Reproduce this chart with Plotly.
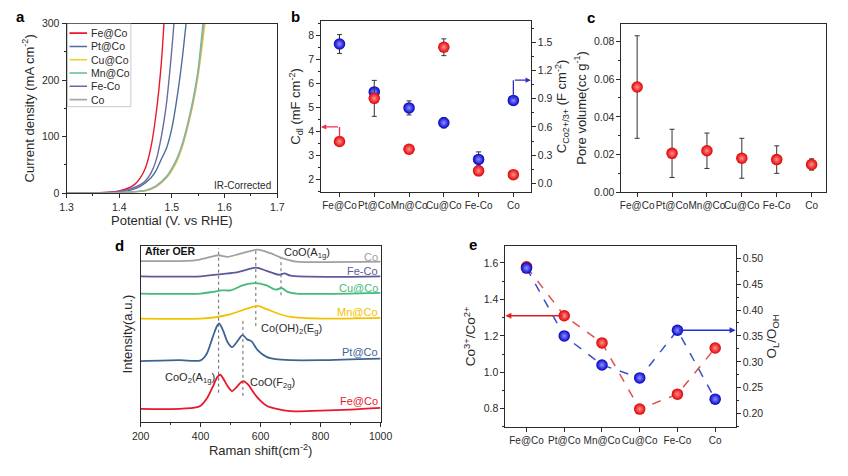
import plotly.graph_objects as go

FONT = "Arial, Liberation Sans, sans-serif"
INK = "#2a2a2a"

# ---------------- panel a : LSV curves ----------------
lsv_names = ["Fe@Co", "Pt@Co", "Cu@Co", "Mn@Co", "Fe-Co", "Co"]
lsv_colors = ["#e8192c", "#4a6d99", "#f0d030", "#5cc08a", "#6a6aa2", "#a8a8a8"]

fe_at_co_V = [1.30, 1.35, 1.38, 1.40, 1.42, 1.43, 1.44, 1.45, 1.46, 1.47, 1.48, 1.485]
fe_at_co_J = [0, 0.5, 1.5, 4, 10, 16, 27, 45, 80, 140, 230, 300]
pt_at_co_V = [1.30, 1.37, 1.40, 1.42, 1.44, 1.46, 1.47, 1.48, 1.49, 1.50, 1.51, 1.52, 1.527]
pt_at_co_J = [0, 0.5, 2, 5, 12, 27, 40, 60, 80, 115, 170, 240, 300]
cu_at_co_V = [1.30, 1.38, 1.42, 1.45, 1.47, 1.49, 1.50, 1.51, 1.52, 1.53, 1.54, 1.55, 1.563]
cu_at_co_J = [0, 0.4, 1.8, 4, 11, 27, 40, 57, 82, 116, 156, 208, 300]
mn_at_co_V = [1.30, 1.38, 1.42, 1.45, 1.47, 1.49, 1.50, 1.51, 1.52, 1.53, 1.54, 1.55, 1.559]
mn_at_co_J = [0, 0.5, 2, 5, 13, 30, 44, 62, 88, 123, 165, 220, 300]
fe_co_V = [1.30, 1.36, 1.40, 1.42, 1.44, 1.45, 1.46, 1.47, 1.48, 1.49, 1.495, 1.50, 1.504]
fe_co_J = [0, 0.5, 3, 7, 15, 22, 35, 58, 100, 160, 205, 255, 300]
co_V = [1.30, 1.38, 1.42, 1.45, 1.47, 1.49, 1.50, 1.51, 1.52, 1.53, 1.54, 1.55, 1.561]
co_J = [0, 0.5, 2, 4.5, 12, 28, 42, 60, 85, 119, 160, 213, 300]

lsv_V = [fe_at_co_V, pt_at_co_V, cu_at_co_V, mn_at_co_V, fe_co_V, co_V]
lsv_J = [fe_at_co_J, pt_at_co_J, cu_at_co_J, mn_at_co_J, fe_co_J, co_J]

# ---------------- panels b, c, e : categories ----------------
cats = ["Fe@Co", "Pt@Co", "Mn@Co", "Cu@Co", "Fe-Co", "Co"]
cat_idx = list(range(len(cats)))

cdl = [3.58, 5.38, 3.26, 7.51, 2.36, 2.20]
cdl_err = [0.10, 0.75, 0.08, 0.35, 0.20, 0.08]
c_co = [1.483, 0.973, 0.803, 0.645, 0.255, 0.883]
c_co_err = [0.10, 0.04, 0.075, 0.055, 0.08, 0.03]

pore = [0.0558, 0.0206, 0.0220, 0.0180, 0.0173, 0.0147]
pore_err = [0.0272, 0.0128, 0.0094, 0.0106, 0.0073, 0.0030]

co_ratio = [1.579, 1.31, 1.161, 0.798, 0.88, 1.133]
ol_ooh = [0.481, 0.35, 0.294, 0.269, 0.361, 0.228]

# ---------------- panel d : Raman spectra ----------------
raman_names = ["Fe@Co", "Pt@Co", "Mn@Co", "Cu@Co", "Fe-Co", "Co"]
raman_colors = ["#e8192c", "#3d6591", "#f2c200", "#45b87a", "#5b5b9e", "#a0a0a0"]

fe_at_co_x = [200, 300, 380, 400, 420, 440, 455, 465, 475, 490, 505, 520, 535, 545, 560, 580, 600, 620, 650, 700, 800, 900, 1000]
fe_at_co_y = [13.7, 13.5, 15, 17, 24, 36, 46, 48.7, 45, 37, 32, 36, 41, 42, 38, 29, 22, 17, 14, 11.3, 12, 13, 14.7]
pt_at_co_x = [200, 330, 400, 420, 440, 455, 462, 475, 490, 505, 520, 540, 555, 570, 590, 620, 650, 700, 800, 1000]
pt_at_co_y = [62.7, 63.7, 63.5, 70, 87, 99, 101.3, 94, 82, 77, 82, 89.3, 85, 83, 74, 67, 64.7, 63.7, 63.7, 65.3]
mn_at_co_x = [200, 400, 450, 500, 550, 590, 620, 660, 700, 800, 1000]
mn_at_co_y = [106.3, 106.3, 107.7, 111, 116, 119.3, 116, 111.3, 108, 106.3, 107]
cu_at_co_x = [200, 400, 440, 470, 500, 540, 580, 620, 650, 670, 690, 720, 1000]
cu_at_co_y = [132, 132, 133.7, 135.3, 135.3, 140.3, 142.7, 140.3, 136, 137.7, 133.7, 132, 132.7]
fe_co_x = [200, 400, 470, 520, 560, 585, 620, 660, 680, 700, 1000]
fe_co_y = [149.7, 149.7, 152, 153.7, 157, 158.7, 155.3, 151.3, 152.7, 150.3, 149.7]
co_x = [200, 380, 430, 460, 490, 530, 590, 630, 670, 720, 800, 1000]
co_y = [165.3, 166, 169.3, 171.3, 169.7, 172.7, 177, 173.7, 168.7, 164.7, 164.3, 164.7]

raman_x = [fe_at_co_x, pt_at_co_x, mn_at_co_x, cu_at_co_x, fe_co_x, co_x]
raman_y = [fe_at_co_y, pt_at_co_y, mn_at_co_y, cu_at_co_y, fe_co_y, co_y]
raman_label_y = [22, 72, 113, 138, 155, 170]

peak_x = [460, 541, 584, 668]
peak_ytop = [178.7, 105.3, 178.7, 168.7]
peak_ybot = [30.3, 27, 98.7, 130.3]

# ---------------- figure ----------------
W, H = 848, 476


def dom_x(a, b):
    return [a / W, b / W]


def dom_y(top, bot):
    return [1 - bot / H, 1 - top / H]


def axis(**kw):
    base = dict(showline=True, linecolor=INK, linewidth=1, mirror=True,
                ticks="outside", ticklen=4, tickcolor=INK, tickwidth=1,
                tickfont=dict(size=10.5, color=INK, family=FONT),
                zeroline=False, showgrid=False)
    base.update(kw)
    return base


def title(t, size=13):
    return dict(text=t, font=dict(size=size, color=INK, family=FONT), standoff=4)


fig = go.Figure()

# panel a
for name, col, v, j in zip(lsv_names, lsv_colors, lsv_V, lsv_J):
    fig.add_trace(go.Scatter(x=v, y=j, mode="lines", line=dict(color=col, width=1.4, shape="spline", smoothing=0.6),
                             xaxis="x", yaxis="y", showlegend=False, name=name))

RED = "#e00000"
BLUE = "#0000c8"


def balls(color, glow):
    return dict(color=color, size=11.5, line=dict(width=0), gradient=dict(type="radial", color=glow))


err_style = dict(type="data", color="#333333", thickness=1, width=2.5)

# panel b (blue base on right, red overlay on left so red is drawn on top)
fig.add_trace(go.Scatter(x=cat_idx, y=c_co, mode="markers", marker=balls(BLUE, "#9090ff"),
                         error_y=dict(array=c_co_err, **err_style), xaxis="x2", yaxis="y2", showlegend=False))
fig.add_trace(go.Scatter(x=cat_idx, y=cdl, mode="markers", marker=balls(RED, "#ff9090"),
                         error_y=dict(array=cdl_err, **err_style), xaxis="x2", yaxis="y3", showlegend=False))

# panel c
fig.add_trace(go.Scatter(x=cat_idx, y=pore, mode="markers", marker=balls(RED, "#ff9090"),
                         error_y=dict(array=pore_err, **err_style), xaxis="x3", yaxis="y4", showlegend=False))

# panel d
for name, col, xs, ys in zip(raman_names, raman_colors, raman_x, raman_y):
    fig.add_trace(go.Scatter(x=xs, y=ys, mode="lines", line=dict(color=col, width=1.8, shape="spline", smoothing=0.8),
                             xaxis="x4", yaxis="y5", showlegend=False, name=name))

# panel e
fig.add_trace(go.Scatter(x=cat_idx, y=co_ratio, mode="lines+markers", line=dict(color="#e05050", width=1.5, dash="dash"),
                         marker=balls(RED, "#ff9090"), xaxis="x5", yaxis="y6", showlegend=False))
fig.add_trace(go.Scatter(x=cat_idx, y=ol_ooh, mode="lines+markers", line=dict(color="#3a50c8", width=1.5, dash="dash"),
                         marker=balls(BLUE, "#9090ff"), xaxis="x5", yaxis="y7", showlegend=False))

cat_ticks = dict(tickmode="array", tickvals=cat_idx, ticktext=cats, tickangle=0,
                 tickfont=dict(size=10, color=INK, family=FONT))

fig.update_layout(
    width=W, height=H, margin=dict(l=0, r=0, t=0, b=0),
    paper_bgcolor="white", plot_bgcolor="white",
    font=dict(family=FONT, color=INK),
    xaxis=axis(domain=dom_x(59, 275), anchor="y", range=[1.3, 1.7], dtick=0.1, tickformat=".1f",
               minor=dict(dtick=0.05, ticks="outside", ticklen=2, tickcolor=INK),
               title=title("Potential (V. vs RHE)")),
    yaxis=axis(domain=dom_y(18, 192), anchor="x", range=[0, 300], dtick=100,
               minor=dict(dtick=50, ticks="outside", ticklen=2, tickcolor=INK),
               title=title("Current density (mA cm<sup>-2</sup>)")),
    xaxis2=axis(domain=dom_x(320, 535), anchor="y2", range=[-0.53, 5.5], **cat_ticks),
    yaxis2=axis(domain=dom_y(15, 191), anchor="x2", side="right", range=[-0.094, 1.732], dtick=0.3, tickformat=".1f",
                minor=dict(dtick=0.15, ticks="outside", ticklen=2, tickcolor=INK),
                title=title("C<sub>Co2+/3+</sub> (F cm<sup>-2</sup>)")),
    yaxis3=axis(overlaying="y2", anchor="x2", side="left", range=[1.47, 8.62], dtick=1,
                minor=dict(dtick=0.5, ticks="outside", ticklen=2, tickcolor=INK),
                title=title("C<sub>dl</sub> (mF cm<sup>-2</sup>)")),
    xaxis3=axis(domain=dom_x(628, 838), anchor="y4", range=[-0.45, 5.42], **cat_ticks),
    yaxis4=axis(domain=dom_y(18, 191), anchor="x3", range=[0, 0.0895], dtick=0.02, tickformat=".2f",
                minor=dict(dtick=0.01, ticks="outside", ticklen=2, tickcolor=INK),
                title=title("Pore volume(cc g<sup>-1</sup>)")),
    xaxis4=axis(domain=dom_x(135, 381), anchor="y5", range=[200, 1000], dtick=200,
                minor=dict(dtick=100, ticks="outside", ticklen=2, tickcolor=INK),
                title=title("Raman shift(cm<sup>-2</sup>)")),
    yaxis5=axis(domain=dom_y(246, 427), anchor="x4", range=[0, 181], showticklabels=False, ticks="",
                title=title("Intensity(a.u.)")),
    xaxis5=axis(domain=dom_x(509, 745), anchor="y6", range=[-0.56, 5.54], **cat_ticks),
    yaxis6=axis(domain=dom_y(246, 432), anchor="x5", range=[0.699, 1.694], dtick=0.2, tickformat=".1f",
                minor=dict(dtick=0.1, ticks="outside", ticklen=2, tickcolor=INK),
                title=title("Co<sup>3+</sup>/Co<sup>2+</sup>", 13.5)),
    yaxis7=axis(overlaying="y6", anchor="x5", side="right", range=[0.174, 0.524], dtick=0.05, tickformat=".2f",
                minor=dict(dtick=0.025, ticks="outside", ticklen=2, tickcolor=INK),
                title=title("O<sub>L</sub>/O<sub>OH</sub>", 13.5)),
)

shapes = []
annots = []

# panel a manual legend
shapes.append(dict(type="rect", xref="x", yref="y", x0=1.3019, x1=1.4222, y0=153, y1=300,
                   line=dict(color="#bbbbbb", width=0.8), fillcolor="rgba(0,0,0,0)"))
for i, (name, col) in enumerate(zip(lsv_names, lsv_colors)):
    yy = 283 - i * 23.5
    shapes.append(dict(type="line", xref="x", yref="y", x0=1.3056, x1=1.3389, y0=yy, y1=yy,
                       line=dict(color=col, width=1.6)))
    annots.append(dict(xref="x", yref="y", x=1.3426, y=yy, text=name, showarrow=False, xanchor="left",
                       font=dict(size=10.5, color=INK, family=FONT)))
annots.append(dict(xref="x", yref="y", x=1.692, y=14, text="IR-Corrected", showarrow=False, xanchor="right",
                   font=dict(size=10, color=INK, family=FONT)))

# panel b arrows
shapes.append(dict(type="line", xref="x2", yref="y3", x0=0, x1=0, y0=3.7, y1=4.19, line=dict(color="#f03050", width=1.3)))
annots.append(dict(xref="x2", yref="y3", x=-0.53, y=4.19, axref="x2", ayref="y3", ax=0, ay=4.19, text="",
                   showarrow=True, arrowhead=2, arrowsize=0.8, arrowwidth=1.3, arrowcolor="#f03050"))
shapes.append(dict(type="line", xref="x2", yref="y2", x0=5, x1=5, y0=0.9, y1=1.098, line=dict(color="#3030c0", width=1.3)))
annots.append(dict(xref="x2", yref="y2", x=5.5, y=1.098, axref="x2", ayref="y2", ax=5, ay=1.098, text="",
                   showarrow=True, arrowhead=2, arrowsize=0.8, arrowwidth=1.3, arrowcolor="#3030c0"))

# panel d dashed guides & labels
for px, yt, yb in zip(peak_x, peak_ytop, peak_ybot):
    shapes.append(dict(type="line", xref="x4", yref="y5", x0=px, x1=px, y0=yb, y1=yt,
                       line=dict(color="#666666", width=1, dash="dot"), layer="below"))
for name, col, ly in zip(raman_names, raman_colors, raman_label_y):
    annots.append(dict(xref="x4", yref="y5", x=998, y=ly, text=name, showarrow=False, xanchor="right",
                       font=dict(size=11, color=col, family=FONT)))
dtext = dict(size=11, color=INK, family=FONT)
annots.append(dict(xref="x4", yref="y5", x=208, y=176, text="<b>After OER</b>", showarrow=False, xanchor="left",
                   font=dict(size=10.5, color="#111111", family=FONT)))
annots.append(dict(xref="x4", yref="y5", x=672, y=174, text="CoO(A<sub>1g</sub>)", showarrow=False, xanchor="left", font=dtext))
annots.append(dict(xref="x4", yref="y5", x=594, y=96, text="Co(OH)<sub>2</sub>(E<sub>g</sub>)", showarrow=False, xanchor="left", font=dtext))
annots.append(dict(xref="x4", yref="y5", x=363, y=45, text="CoO<sub>2</sub>(A<sub>1g</sub>)", showarrow=False, xanchor="center", font=dtext))
annots.append(dict(xref="x4", yref="y5", x=558, y=40, text="CoO(F<sub>2g</sub>)", showarrow=False, xanchor="left", font=dtext))

# panel e arrows
annots.append(dict(xref="x5", yref="y6", x=-0.56, y=1.31, axref="x5", ayref="y6", ax=1, ay=1.31, text="",
                   showarrow=True, arrowhead=2, arrowsize=0.8, arrowwidth=1.5, arrowcolor="#e02020"))
annots.append(dict(xref="x5", yref="y7", x=5.54, y=0.361, axref="x5", ayref="y7", ax=4, ay=0.361, text="",
                   showarrow=True, arrowhead=2, arrowsize=0.8, arrowwidth=1.5, arrowcolor="#2030d0"))

# panel letters
for letter, px, py in [("a", 12, 11), ("b", 294, 11), ("c", 597, 12), ("d", 113, 246), ("e", 476, 245)]:
    annots.append(dict(xref="paper", yref="paper", x=px / W, y=1 - py / H, text="<b>%s</b>" % letter,
                       showarrow=False, xanchor="center", yanchor="middle",
                       font=dict(size=15, color="#000000", family=FONT)))

fig.update_layout(shapes=shapes, annotations=annots)
fig.write_html("out.html")
